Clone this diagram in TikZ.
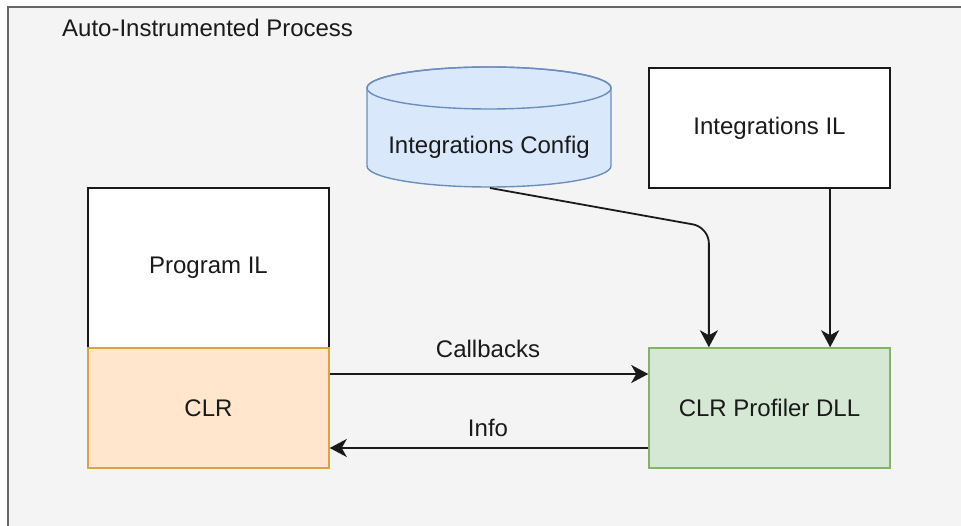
\documentclass[tikz,border=0pt]{standalone}
\usepackage{fontspec}
\setmainfont{Liberation Sans}
\usetikzlibrary{arrows.meta,calc}
\definecolor{bgfill}{HTML}{F4F4F4}
\definecolor{bgline}{HTML}{666666}
\definecolor{txt}{HTML}{1A1A1A}
\definecolor{orfill}{HTML}{FFE6CC}
\definecolor{orline}{HTML}{D9A441}
\definecolor{grfill}{HTML}{D5E8D4}
\definecolor{grline}{HTML}{82B366}
\definecolor{blfill}{HTML}{DAE8FC}
\definecolor{blline}{HTML}{6C8EBF}
\begin{document}
\begin{tikzpicture}[x=1pt,y=-1pt,
  lbl/.style={text=txt,font=\fontsize{24}{28}\selectfont,inner sep=0pt},
  plainbox/.style={draw=txt,fill=white,line width=1.5pt,minimum width=241pt,minimum height=120pt,inner sep=0pt,text=txt,font=\fontsize{24}{28}\selectfont},
  conn/.style={draw=txt,line width=1.8pt,-{Stealth[length=17pt,width=18pt,inset=5pt]}}
]
\useasboundingbox (0,0) rectangle (961,526);
\clip (0,0) rectangle (961,526);
% container
\draw[fill=bgfill,draw=bgline,line width=1.2pt] (8,7) rectangle (975,540);
\node[lbl,anchor=west] (title) at (62,28) {Auto-Instrumented Process};

% boxes
\node[plainbox,minimum height=160pt] (pil) at (208.5,268) {Program IL};
\node[plainbox,fill=orfill,draw=orline] (clr) at (208.5,408) {CLR};
\node[plainbox] (iil) at (769.5,128) {Integrations IL};
\node[plainbox,fill=grfill,draw=grline] (prof) at (769.5,408) {CLR Profiler DLL};

% cylinder
\path[fill=blfill,draw=blline,line width=1.4pt] (367,88) -- (367,166)
  arc[start angle=180,end angle=0,x radius=122,y radius=21] -- (611,88)
  arc[start angle=0,end angle=-180,x radius=122,y radius=21] -- cycle;
\draw[blline,line width=1.4pt] (489,88) ellipse[x radius=122,y radius=21];
\node[lbl] (cfg) at (489,147) {Integrations Config};
\coordinate (cfgbot) at (490,188);

% connector targets
\coordinate (p1) at ($(prof.north west)!0.25!(prof.north east)$);
\coordinate (p2) at ($(prof.north west)!0.75!(prof.north east)$);

\draw[conn,rounded corners=16pt] (cfgbot) -- ([yshift=120pt]p1) -- (p1);
\draw[conn] (iil.south -| p2) -- (p2);

\draw[conn] ([yshift=34pt]clr.east) -- ([yshift=34pt]prof.west);
\draw[conn] ([yshift=-40pt]prof.west) -- ([yshift=-40pt]clr.east);
\node[lbl] (cb) at (488,349) {Callbacks};
\node[lbl] (info) at (488,428) {Info};
\end{tikzpicture}
\end{document}
